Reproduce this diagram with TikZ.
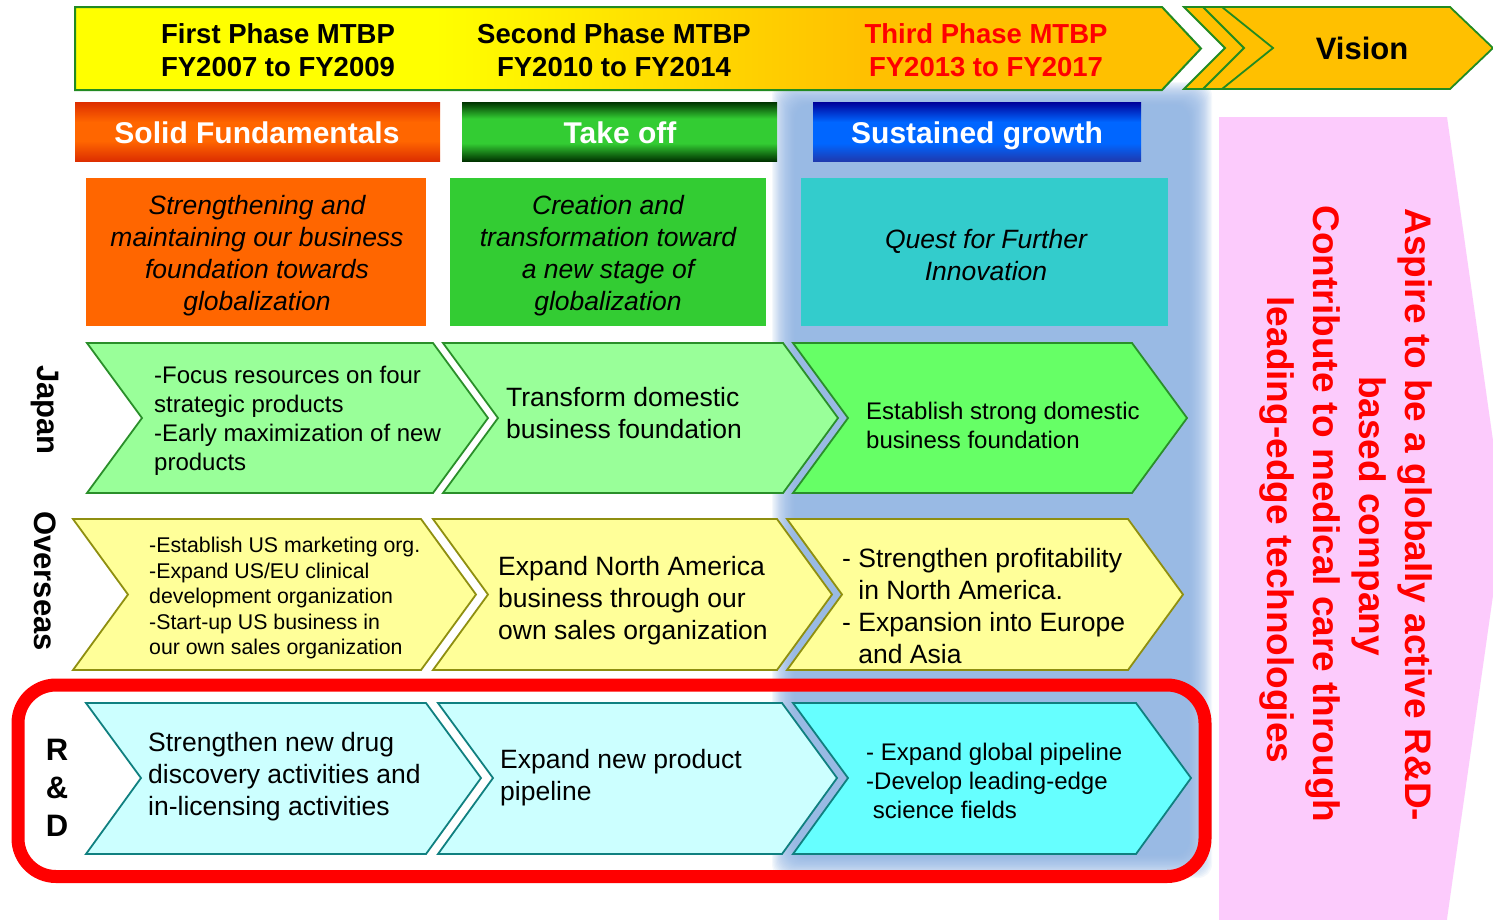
\documentclass[tikz,border=0pt]{standalone}
\usepackage{fontspec}
\setmainfont{Liberation Sans}
\newcommand\myfs[2]{\fontsize{#1}{#2}\selectfont}
\newcommand\chev[6]{\path[#6] (#1,#3) -- (#2,#3) -- ({#2+55},#5) -- (#2,#4) -- (#1,#4) -- ({#1+55},#5) -- cycle;}
\definecolor{ban1}{HTML}{FFFF00}
\definecolor{ban2}{HTML}{FFC000}
\definecolor{bgreen}{HTML}{228B22}
\definecolor{sfdark}{HTML}{DD2E00}
\definecolor{sfmid}{HTML}{FF6600}
\definecolor{todark}{HTML}{003300}
\definecolor{tomid}{HTML}{33CC33}
\definecolor{sgtop}{HTML}{000099}
\definecolor{sgmid}{HTML}{0066FF}
\definecolor{sgbot}{HTML}{1E3AB0}
\definecolor{orbox}{HTML}{FF6600}
\definecolor{grbox}{HTML}{33CC33}
\definecolor{tlbox}{HTML}{33CCCC}
\definecolor{jp1}{HTML}{99FF99}
\definecolor{jp3}{HTML}{66FF66}
\definecolor{jpline}{HTML}{2A8F2A}
\definecolor{osf}{HTML}{FFFF99}
\definecolor{osline}{HTML}{8F8F10}
\definecolor{rd1}{HTML}{CCFFFF}
\definecolor{rd3}{HTML}{66FFFF}
\definecolor{rdline}{HTML}{108080}
\definecolor{glowc}{HTML}{8CB2E4}
\definecolor{pinkv}{HTML}{FCCBFC}
\pgfdeclarehorizontalshading{bannershade}{100bp}{color(0bp)=(ban1); color(41bp)=(ban1); color(60bp)=(ban2); color(100bp)=(ban2)}
\pgfdeclareverticalshading{sfshade}{100bp}{color(0bp)=(sfdark); color(25bp)=(sfdark); color(42bp)=(sfmid); color(58bp)=(sfmid); color(75bp)=(sfdark); color(100bp)=(sfdark)}
\pgfdeclareverticalshading{toshade}{100bp}{color(0bp)=(todark); color(25bp)=(todark); color(40bp)=(tomid); color(61bp)=(tomid); color(75bp)=(todark); color(100bp)=(todark)}
\pgfdeclareverticalshading{sgshade}{100bp}{color(0bp)=(sgbot); color(25bp)=(sgbot); color(40bp)=(sgmid); color(58bp)=(sgmid); color(75bp)=(sgtop); color(100bp)=(sgtop)}
\begin{document}
\begin{tikzpicture}[x=1pt,y=-1pt,
  hdrtxt/.style={font=\bfseries\myfs{30}{36}, text=white, inner sep=0pt, anchor=base},
  phtxt/.style={font=\bfseries\myfs{27.5}{33}, align=center, inner sep=0pt},
  desctxt/.style={font=\itshape\myfs{26.5}{32}, align=center, inner sep=0pt},
  txtL/.style={font=\myfs{26.5}{32}, align=left, anchor=west, inner sep=0pt},
  txtM/.style={font=\myfs{24}{29}, align=left, anchor=west, inner sep=0pt},
  txtS/.style={font=\myfs{21.3}{25.5}, align=left, anchor=west, inner sep=0pt},
  rowlbl/.style={font=\bfseries\myfs{31}{38}, align=center, inner sep=0pt},
  vistxt/.style={font=\bfseries\myfs{37}{46}, text=red, inner sep=0pt, rotate=-90},
  jpA/.style={fill=jp1, draw=jpline, line width=1.8pt, line join=miter},
  jpB/.style={fill=jp3, draw=jpline, line width=1.8pt, line join=miter},
  osA/.style={fill=osf, draw=osline, line width=1.8pt, line join=miter},
  rdA/.style={fill=rd1, draw=rdline, line width=1.8pt, line join=miter},
  rdB/.style={fill=rd3, draw=rdline, line width=1.8pt, line join=miter},
  visA/.style={fill=ban2, draw=bgreen, line width=1.8pt, line join=miter}]
\useasboundingbox (0,0) rectangle (1493,919);
\fill[white] (0,0) rectangle (1493,919);
% glow behind third phase column
\foreach \i in {0,...,19}{
  \fill[glowc, opacity=0.09, rounded corners=14pt] ({772+1.2*\i},{82+1.2*\i}) rectangle ({1212-1.2*\i},{878-1.2*\i});
}
% banner
\path[shade, shading=bannershade, draw=bgreen, line width=2pt, line join=miter]
  (75,7) -- (1162,7) -- (1201,48.5) -- (1162,90) -- (75,90) -- cycle;
\node[phtxt] (ph1) at (278,50.5) {First Phase MTBP\\FY2007 to FY2009};
\node[phtxt] (ph2) at (614,50.5) {Second Phase MTBP\\FY2010 to FY2014};
\node[phtxt, text=red] (ph3) at (986,50.5) {Third Phase MTBP\\FY2013 to FY2017};
% vision chevrons
\path[visA] (1184,7) -- (1420,7) -- (1420,89) -- (1184,89) -- (1225,48) -- cycle;
\path[visA] (1203,7) -- (1440,7) -- (1440,89) -- (1203,89) -- (1244,48) -- cycle;
\path[visA] (1222,7) -- (1450,7) -- (1493,48) -- (1450,89) -- (1222,89) -- (1273,48) -- cycle;
\node[font=\bfseries\myfs{31}{36}, inner sep=0pt] (vis) at (1362,48) {Vision};
% header boxes
\path[shade, shading=sfshade] (75,102) rectangle (440,161);
\node[hdrtxt] (h1) at (257,143.5) {Solid Fundamentals};
\path[shade, shading=toshade] (462,102) rectangle (777,161);
\node[hdrtxt] (h2) at (620,143.5) {Take off};
\path[shade, shading=sgshade] (813,102) rectangle (1141,161);
\node[hdrtxt] (h3) at (977,143.5) {Sustained growth};
% description boxes
\fill[orbox] (86,178) rectangle (426,326);
\node[desctxt] (d1) at (257,255.5) {Strengthening and\\maintaining our business\\foundation towards\\globalization};
\fill[grbox] (450,178) rectangle (766,326);
\node[desctxt] (d2) at (608,255.5) {Creation and\\transformation toward\\a new stage of\\globalization};
\fill[tlbox] (801,178) rectangle (1168,326);
\node[desctxt] (d3) at (986,255) {Quest for Further\\Innovation};
% Japan row
\chev{87}{433}{343}{493}{418}{jpA}
\chev{443}{783}{343}{493}{418}{jpA}
\chev{793}{1132}{343}{493}{418}{jpB}
\node[txtM] (j1) at (154,420.5) {-Focus resources on four\\strategic products\\-Early maximization of new\\products};
\node[txtL] (j2) at (506,413) {Transform domestic\\business foundation};
\node[txtM] (j3) at (866,425.5) {Establish strong domestic\\business foundation};
% Overseas row
\chev{73}{421}{519}{670}{594.5}{osA}
\chev{433}{777}{519}{670}{594.5}{osA}
\chev{787}{1128}{519}{670}{594.5}{osA}
\node[txtS] (o1) at (149,598) {-Establish US marketing org.\\-Expand US/EU clinical\\development organization\\-Start-up US business in\\our own sales organization};
\node[txtL] (o2) at (498,601) {Expand North America\\business through our\\own sales organization};
\node[txtL] (o3) at (842,606) {- Strengthen profitability\\\phantom{- }in North America.\\- Expansion into Europe\\\phantom{- }and Asia};
% R&D row
\chev{86}{426}{703}{854}{778}{rdA}
\chev{438}{782}{703}{854}{778}{rdA}
\chev{793}{1136}{703}{854}{778}{rdB}
\node[txtL] (r1) at (148,777) {Strengthen new drug\\discovery activities and\\in-licensing activities};
\node[txtL] (r2) at (500,778) {Expand new product\\pipeline};
\node[txtM] (r3) at (866,781) {- Expand global pipeline\\-Develop leading-edge\\\hspace*{0.28em}science fields};
% red frame
\draw[red, line width=13pt, rounded corners=38pt] (18,685) rectangle (1205,876.5);
% row labels
\node[rowlbl, rotate=-90] (ljp) at (45,410) {Japan};
\node[rowlbl, rotate=-90] (los) at (45,581) {Overseas};
\node[rowlbl] (lrd) at (57,788) {R\\\&\\D};
% vision box
\begin{scope}
\clip (0,0) rectangle (1493,919);
\fill[pinkv] (1219,117) -- (1447,117) -- (1504,518) -- (1447,919) -- (1447,925) -- (1219,925) -- cycle;
\end{scope}
\node[vistxt] (v1) at (1415,515) {Aspire to be a globally active R\&D-};
\node[vistxt] (v2) at (1369,516) {based company};
\node[vistxt] (v3) at (1323,514) {Contribute to medical care through};
\node[vistxt] (v4) at (1277,530) {leading-edge technologies};
\end{tikzpicture}
\end{document}
